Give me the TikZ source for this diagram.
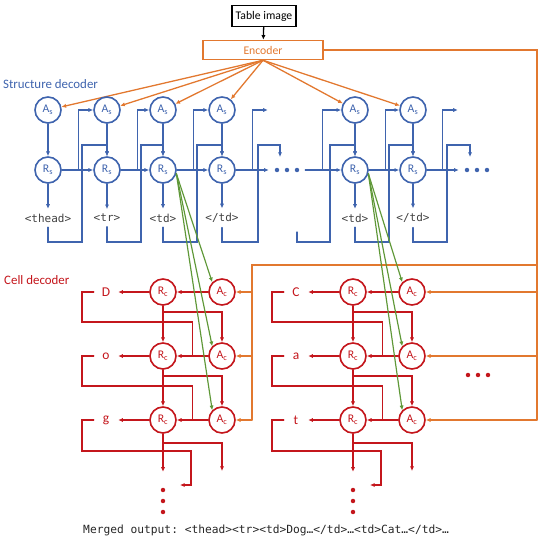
\documentclass[tikz,border=0pt]{standalone}
\usepackage{fontspec}
\setmainfont{Carlito}
\setmonofont{DejaVu Sans Mono}
\usetikzlibrary{arrows.meta,positioning,calc}
\definecolor{sdblue}{HTML}{3F64AE}
\definecolor{cdred}{HTML}{C4161C}
\definecolor{encorange}{HTML}{E2782F}
\definecolor{attgreen}{HTML}{5F9838}
\tikzset{snode/.style={circle,draw=sdblue,line width=1.4pt,text=sdblue,minimum size=.78cm,inner sep=0pt,fill=white,font=\fontsize{10}{11}\selectfont},cnode/.style={circle,draw=cdred,line width=1.4pt,text=cdred,minimum size=.78cm,inner sep=0pt,fill=white,font=\fontsize{10}{11}\selectfont},stok/.style={font=\ttfamily\fontsize{9.4}{11}\selectfont,text=black!75,inner xsep=1pt,inner ysep=4pt},ctok/.style={font=\fontsize{11.5}{13}\selectfont,text=cdred,minimum width=.72cm,inner sep=0pt},sline/.style={draw=sdblue,line width=1.1pt,-{Latex[length=4pt,width=3.6pt]}},cline/.style={draw=cdred,line width=1.1pt,-{Latex[length=4pt,width=3.6pt]}},eline/.style={draw=encorange,line width=1.1pt,-{Latex[length=4pt,width=3.6pt]}},gline/.style={draw=attgreen,line width=1pt,-{Latex[length=4pt,width=3.6pt]}},dotsbox/.style={minimum width=1.08cm,inner sep=0pt},every picture/.style={line cap=round}}

\begin{document}
\begin{tikzpicture}[x=.03cm,y=-.03cm]
\useasboundingbox (0,0) rectangle (544,538);
\node[draw=black,line width=1.3pt,minimum width=1.92cm,minimum height=.63cm,inner sep=0pt,font=\fontsize{10}{12}\selectfont] (img) at (264,16) {Table image};
\node[draw=encorange,line width=1.3pt,minimum width=3.6cm,minimum height=.57cm,inner sep=0pt,text=encorange,font=\fontsize{10}{12}\selectfont] (enc) at (263,50) {Encoder};
\draw[line width=1.1pt,-{Latex[length=4pt,width=3.6pt]}] (img) -- (enc);
\node[anchor=west,text=sdblue,inner sep=0pt,font=\fontsize{11}{13}\selectfont] (stitle) at (3,84) {Structure decoder};
\node[anchor=west,text=cdred,inner sep=0pt,font=\fontsize{11}{13}\selectfont] (ctitle) at (4,280) {Cell decoder};
% structure decoder
\foreach \n/\x/\t in {1/48/{<thead>},2/107/{<tr>},3/163/{<td>},4/222/{</td>},5/355/{<td>},6/413/{</td>}}{
  \node[snode] (a\n) at (\x,110) {A\textsubscript{s}};
  \node[snode] (r\n) at (\x,170) {R\textsubscript{s}};
  \node[stok] (o\n) at (\x,218) {\t};
  \draw[sline] (a\n) -- (r\n);
  \draw[sline] (r\n) -- (o\n);
  \draw[eline] (enc.south) -- (a\n);
}
\foreach \i/\j in {1/2,2/3,3/4,5/6}{
  \draw[sline] (r\i) -- (r\j);
  \draw[sline] ($(r\i.east)+(17,0)$) |- (a\j);
  \draw[sline] (o\i.south) |- ($(r\i)+(34,72)$) |- ($(r\j)+(0,-25)$) -- (r\j.north);
}
\node[dotsbox] (sdots1) at (287,170) {};
\node[dotsbox] (sdots2) at (477,170) {};
\node[dotsbox] (cdots) at (478,375) {};
\foreach \d in {-10,0,10}{
  \fill[sdblue] ($(sdots1)+(\d,0)$) circle (1.9pt);
  \fill[sdblue] ($(sdots2)+(\d,0)$) circle (1.9pt);
  \fill[cdred] ($(cdots)+(\d,0)$) circle (1.9pt);
}
\draw[sline] (r4) -- (sdots1.west);
\draw[sline] ($(r4.east)+(17,0)$) |- ++(15,-60);
\draw[sline] (o4.south) |- ($(r4)+(36,72)$) |- ++(22,-97) -- ++(0,12);
\draw[sline] (sdots1.east) -- (r5);
\draw[sline] ($(r5.west)+(-19,0)$) |- (a5);
\draw[sline] ($(r5)+(-58,62)$) |- ($(r5)+(-25,72)$) |- ($(r5)+(0,-25)$) -- (r5.north);
\draw[sline] (r6) -- (sdots2.west);
\draw[sline] ($(r6.east)+(16,0)$) |- ++(15,-60);
\draw[sline] (o6.south) |- ($(r6)+(34,72)$) |- ++(23,-97) -- ++(0,12);
% cell decoder
\foreach \g/\X/\j/\y/\t in {p/163/1/292/D,p/163/2/356/o,p/163/3/420/g,q/353/1/292/C,q/353/2/356/a,q/353/3/420/t}{
  \node[cnode] (rc\g\j) at (\X,\y) {R\textsubscript{c}};
  \node[cnode] (ac\g\j) at (\X+59,\y) {A\textsubscript{c}};
  \node[ctok] (l\g\j) at (\X-57,\y) {\t};
  \draw[cline] (ac\g\j) -- (rc\g\j);
  \draw[cline] (rc\g\j) -- (l\g\j);
}
\foreach \g in {p,q}{
  \foreach \j/\k in {1/2,2/3}{
    \draw[cline,-] (l\g\j.west) -| ($(l\g\j)+(-24,30)$) -| ($(rc\g\k.east)+(16,0)$);
    \draw[cline] (rc\g\j.south) -- (rc\g\k.north);
    \draw[cline] ($(rc\g\j)+(0,20)$) -| (ac\g\k.north);
  }
  \draw[cline] (l\g3.west) -| ($(l\g3)+(-24,31)$) -| ($(rc\g3)+(28,65)$) -- ++(-11,0);
  \draw[cline] (rc\g3.south) -- ++(0,38);
  \draw[cline] ($(rc\g3)+(0,23)$) -| ($(ac\g3)+(0,51)$);
  \foreach \d in {70,81,92}{\fill[cdred] ($(rc\g3)+(0,\d)$) circle (1.9pt);}
}
% encoder feed to cells
\draw[eline,-] (enc.east) -| ($(acq3)+(125,0)$);
\draw[eline,-] ($(acq1)+(125,-27)$) -| ($(acp3)+(30,0)$);
\foreach \j in {1,2,3}{
  \draw[eline] ($(acq\j)+(125,0)$) -- (acq\j);
  \draw[eline] ($(acp\j)+(30,0)$) -- (acp\j);
  \draw[gline] (r3.-15) -- (acp\j.north west);
  \draw[gline] (r5.-15) -- (acq\j.north west);
}
\node[anchor=west,inner sep=0pt,text=black!85,font=\ttfamily\fontsize{9.6}{11}\selectfont] (merged) at (83,530) {Merged output: <thead><tr><td>Dog…</td>…<td>Cat…</td>…};
\end{tikzpicture}
\end{document}
